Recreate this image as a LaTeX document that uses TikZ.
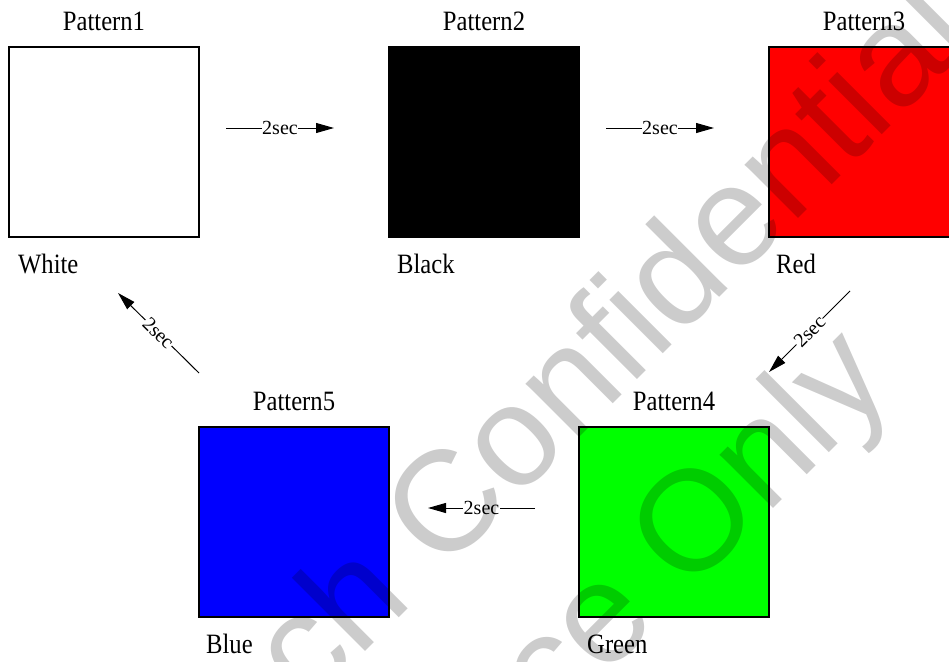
\documentclass[tikz,border=0pt]{standalone}
\usepackage{fontspec}
\setmainfont{Liberation Serif}
\newfontfamily\lblfont[FakeStretch=0.88]{Liberation Serif}
\newfontfamily\secfont{Liberation Serif}
\newfontfamily\wmfont{Liberation Sans}
\usetikzlibrary{arrows.meta}
\begin{document}
\begin{tikzpicture}[x=1pt,y=-1pt,
  swatch/.style={draw=black,line width=1.4pt,minimum width=190pt,minimum height=190pt,inner sep=0pt,outer sep=0pt,anchor=north west},
  title/.style={font=\lblfont\fontsize{28}{30}\selectfont,inner sep=0pt,anchor=base},
  caption/.style={font=\lblfont\fontsize{28}{30}\selectfont,inner sep=0pt,anchor=base west},
  flow/.style={draw=black,line width=1pt,-{Triangle[length=18pt,width=10pt]}},
  seclbl/.style={font=\secfont\fontsize{20}{22}\selectfont,fill=white,inner sep=0.6pt},
  wm/.style={font=\wmfont\fontsize{143}{143}\selectfont,text=black,text opacity=0.2,inner sep=0pt,rotate=45,anchor=base west}]
\useasboundingbox (0,0) rectangle (949,661);
\clip (0,0) rectangle (949,661);
\fill[white] (0,0) rectangle (949,661);
% swatches
\node[swatch,fill=white] (p1) at (9,47) {};
\node[swatch,fill=black] (p2) at (389,47) {};
\node[swatch,fill=red] (p3) at (769,47) {};
\node[swatch,fill={rgb,255:red,0;green,255;blue,0}] (p4) at (579,427) {};
\node[swatch,fill={rgb,255:red,0;green,0;blue,255}] (p5) at (199,427) {};
% titles
\node[title] (t1) at (104,31) {Pattern1};
\node[title] (t2) at (484,31) {Pattern2};
\node[title] (t3) at (864,31) {Pattern3};
\node[title] (t4) at (674,410) {Pattern4};
\node[title] (t5) at (294,410) {Pattern5};
% captions
\node[caption] (c1) at (18,273) {White};
\node[caption] (c2) at (397,273) {Black};
\node[caption] (c3) at (776,273) {Red};
\node[caption] (c4) at (587,653) {Green};
\node[caption] (c5) at (206,653) {Blue};
% arrow end points
\coordinate (a1s) at (226,128);
\coordinate (a1e) at (334,128);
\coordinate (a2s) at (606,128);
\coordinate (a2e) at (714,128);
\coordinate (a3s) at (850,291);
\coordinate (a3e) at (769,372);
\coordinate (a4s) at (535,508);
\coordinate (a4e) at (428,508);
\coordinate (a5s) at (199,373);
\coordinate (a5e) at (118,293);
\draw[flow] (a1s) -- node[seclbl] (l1) {2sec} (a1e);
\draw[flow] (a2s) -- node[seclbl] (l2) {2sec} (a2e);
\draw[flow] (a3s) -- node[seclbl,sloped] (l3) {2sec} (a3e);
\draw[flow] (a4s) -- node[seclbl] (l4) {2sec} (a4e);
\draw[flow] (a5s) -- node[seclbl,sloped] (l5) {2sec} (a5e);
% watermark
\node[wm] (w1) at (308,709) {ch Confidential};
\node[wm] (w2) at (553,729) {ce Only};
\end{tikzpicture}
\end{document}
